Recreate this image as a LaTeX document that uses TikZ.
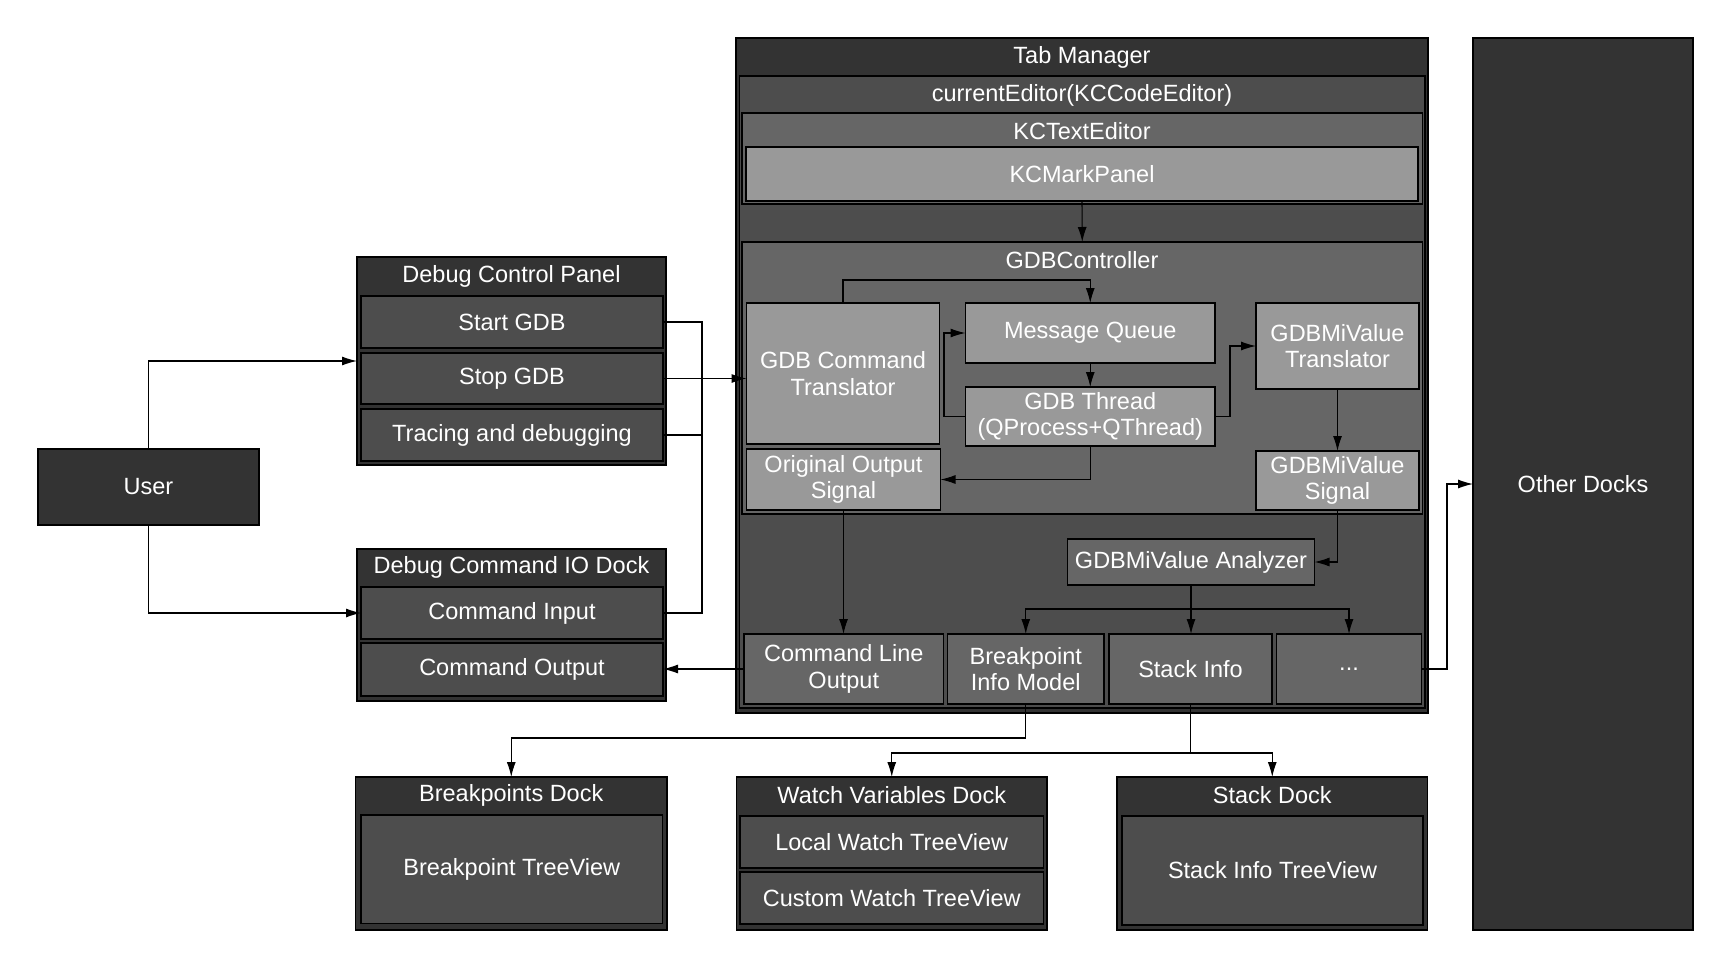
\documentclass[tikz,border=0pt]{standalone}
\usepackage{fontspec}
\setmainfont{Liberation Sans}
\usetikzlibrary{arrows.meta}
\definecolor{cA}{HTML}{333333}
\definecolor{cB}{HTML}{4D4D4D}
\definecolor{cC}{HTML}{666666}
\definecolor{cD}{HTML}{999999}
\newcommand{\bx}[7]{\node[bx,fill=#6,minimum width={#4pt-#2pt},minimum height={#5pt-#3pt}] (#1) at (#2,#3) {#7};}
\tikzset{
  bx/.style={draw=black,line width=1.4pt,text=white,font=\fontsize{23.5}{26.5}\selectfont,inner sep=0pt,outer sep=0pt,anchor=north west,align=center},
  ttl/.style={text=white,font=\fontsize{23.5}{26.5}\selectfont,inner sep=0pt,anchor=center},
  arr/.style={draw=black,line width=1.1pt,-{Latex[length=15pt,width=9pt]}},
  ln/.style={draw=black,line width=1.1pt}
}
\begin{document}
\begin{tikzpicture}[x=1pt,y=-1pt]
\useasboundingbox (0,0) rectangle (1731,968);
\fill[white] (0,0) rectangle (1731,968);
% left side
\bx{user}{38}{449}{259}{525}{cA}{User}
\bx{dcp}{357}{257}{666}{465}{cA}{}
\node[ttl] (dcpt) at (511.5,276) {Debug Control Panel};
\bx{start}{361}{296}{663}{348}{cB}{Start GDB}
\bx{stop}{361}{353}{663}{404}{cB}{Stop GDB}
\bx{trace}{361}{409}{663}{461}{cB}{Tracing and debugging}
\bx{dcio}{357}{549}{666}{701}{cA}{}
\node[ttl] (dciot) at (511.5,567.5) {Debug Command IO Dock};
\bx{cmdin}{361}{587}{663}{639}{cB}{Command Input}
\bx{cmdout}{361}{643}{663}{696}{cB}{Command Output}
% tab manager
\bx{tm}{736}{38}{1428}{713}{cA}{}
\node[ttl] (tmt) at (1082,57) {Tab Manager};
\bx{ced}{739.5}{76}{1425}{708}{cB}{}
\node[ttl] (cedt) at (1082,95) {currentEditor(KCCodeEditor)};
\bx{kct}{742}{113}{1422.5}{204}{cC}{}
\node[ttl] (kctt) at (1082,131) {KCTextEditor};
\bx{kcm}{746}{147}{1418}{201}{cD}{KCMarkPanel}
\bx{gdbc}{742}{242}{1422.5}{514}{cC}{}
\node[ttl] (gdbct) at (1082,260) {GDBController};
\bx{trans}{746.5}{303}{939.5}{444}{cD}{GDB Command\\Translator}
\bx{mq}{965.5}{303}{1215}{363}{cD}{Message Queue}
\bx{thread}{965.5}{387}{1215}{446}{cD}{GDB Thread\\(QProcess+QThread)}
\bx{mitrans}{1256}{303}{1419}{389}{cD}{GDBMiValue\\Translator}
\bx{origsig}{746.5}{449}{940.5}{510}{cD}{Original Output\\Signal}
\bx{misig}{1256}{451}{1419}{510}{cD}{GDBMiValue\\Signal}
\bx{ana}{1067.5}{539}{1314.5}{585}{cC}{GDBMiValue Analyzer}
\bx{clo}{744}{634}{943.5}{704}{cC}{Command Line\\Output}
\bx{bim}{947.5}{634}{1104}{704}{cC}{Breakpoint\\Info Model}
\bx{si}{1109}{634}{1272}{704}{cC}{Stack Info}
\bx{dots}{1276.5}{634}{1421.5}{704}{cC}{...}
% other docks
\bx{other}{1473}{38}{1693}{930}{cA}{Other Docks}
% bottom docks
\bx{bpd}{355.5}{777}{667}{930}{cA}{}
\node[ttl] (bpdt) at (511.25,795.5) {Breakpoints Dock};
\bx{bpt}{361}{815}{662.5}{923.5}{cB}{Breakpoint TreeView}
\bx{wvd}{736.5}{777}{1047}{930}{cA}{}
\node[ttl] (wvdt) at (891.75,795.5) {Watch Variables Dock};
\bx{lw}{740}{816}{1043.5}{868}{cB}{Local Watch TreeView}
\bx{cw}{740}{872}{1043.5}{924}{cB}{Custom Watch TreeView}
\bx{sd}{1117}{777}{1427.5}{930}{cA}{}
\node[ttl] (sdt) at (1272.25,795.5) {Stack Dock};
\bx{sit}{1122}{816}{1423}{925}{cB}{Stack Info TreeView}
% coordinates
\coordinate (busT) at (702,322);
\coordinate (busB) at (702,613);
\coordinate (c1) at (843,280);
\coordinate (c2) at (944,0);
\coordinate (c3) at (1230,0);
\coordinate (c4) at (1191,609);
\coordinate (c5) at (1447,0);
\coordinate (c6) at (0,738);
\coordinate (c7) at (1190.5,753);
% connectors
\draw[arr] (user.north) |- (dcp.west);
\draw[arr] (user.south) |- (cmdin.west);
\draw[ln] (start.east) -- (start.east -| busT) -- (busB) -- (cmdin.east);
\draw[ln] (trace.east) -- (trace.east -| busT);
\draw[arr] (stop.east) -- (stop.east -| trans.west);
\draw[arr] (clo.west) -- (clo.west -| cmdout.east);
\draw[arr] (kcm.south) -- (gdbc.north);
\draw[arr] (trans.north) |- (c1) -| (mq.north);
\draw[arr] (mq.south) -- (thread.north);
\draw[arr] (thread.west) -- (thread.west -| c2) |- (mq.west);
\draw[arr] (thread.east) -- (thread.east -| c3) |- (mitrans.west);
\draw[arr] (thread.south) |- (origsig.east);
\draw[arr] (mitrans.south) -- (misig.north);
\draw[arr] (origsig.south) -- (origsig.south |- clo.north);
\draw[arr] (misig.south) |- (ana.east);
\draw[ln] (ana.south) -- (c4);
\draw[arr] (c4) -| (bim.north);
\draw[arr] (c4) -| (dots.north);
\draw[arr] (c4) -- (c4 |- si.north);
\draw[arr] (dots.east) -- (dots.east -| c5) |- (other.west);
\draw[arr] (bim.south) -- (bim.south |- c6) -| (bpd.north);
\draw[ln] (si.south) -- (c7);
\draw[arr] (c7) -| (wvd.north);
\draw[arr] (c7) -| (sd.north);
\end{tikzpicture}
\end{document}
